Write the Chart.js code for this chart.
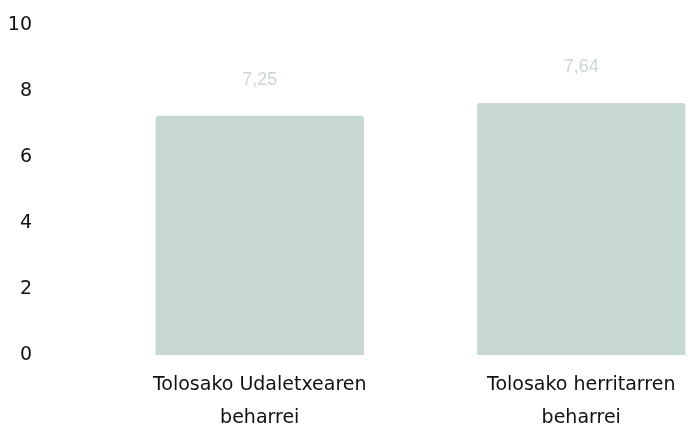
<!DOCTYPE html>
<html>
<head>
<meta charset="utf-8">
<script src="https://cdn.jsdelivr.net/npm/chart.js@4"></script>
<style>
  html, body { margin: 0; padding: 0; background: #fff; overflow: hidden; }
  #wrap { width: 760px; height: 429px; }
</style>
</head>
<body>
<div id="wrap"><canvas id="barchart"></canvas></div>
<script>
const categories = [
  ['Tolosako Udaletxearen', 'beharrei'],
  ['Tolosako herritarren', 'beharrei']
];
const values = [7.25, 7.64];
const valueLabels = ['7,25', '7,64'];
const yTicks = [0, 2, 4, 6, 8, 10];

// draws the value text above each bar
const valueText = {
  id: 'valueText',
  afterDatasetsDraw(chart) {
    const ctx = chart.ctx;
    const meta = chart.getDatasetMeta(0);
    ctx.save();
    ctx.font = '18px "Liberation Sans", Arial, sans-serif';
    ctx.fillStyle = '#ccd6d2';
    ctx.textAlign = 'center';
    ctx.textBaseline = 'middle';
    meta.data.forEach((bar, i) => {
      ctx.fillText(valueLabels[i], bar.x, bar.y - 36);
    });
    ctx.restore();
  }
};

const ctx = document.getElementById('barchart');
new Chart(ctx, {
  type: 'bar',
  data: {
    labels: categories,
    datasets: [{
      data: values,
      backgroundColor: '#c8d8d3',
      borderRadius: { topLeft: 3, topRight: 3 },
      borderSkipped: 'bottom',
      categoryPercentage: 1,
      barPercentage: 0.648
    }]
  },
  options: {
    responsive: true,
    maintainAspectRatio: false,
    animation: false,
    layout: { padding: { top: 25, right: 18, left: 0, bottom: 0 } },
    plugins: {
      legend: { display: false },
      tooltip: { enabled: false }
    },
    scales: {
      y: {
        min: 0,
        max: 10,
        afterBuildTicks(axis) {
          axis.ticks = yTicks.map(v => ({ value: v }));
        },
        afterFit(axis) {
          axis.width = 99;
          // tick padding would otherwise push the chart area down
          axis.paddingTop = 0;
          axis.paddingBottom = 0;
        },
        grid: { display: false, drawTicks: false },
        border: { display: false },
        ticks: {
          padding: 67,
          color: '#111',
          font: { family: '"DejaVu Sans", sans-serif', size: 19 }
        }
      },
      x: {
        afterFit(axis) { axis.height = 74; },
        grid: { display: false, drawTicks: false },
        border: { display: false },
        ticks: {
          padding: 14,
          color: '#111',
          maxRotation: 0,
          font: { family: '"DejaVu Sans", sans-serif', size: 19, lineHeight: 1.72 }
        }
      }
    }
  },
  plugins: [valueText]
});
</script>
</body>
</html>
